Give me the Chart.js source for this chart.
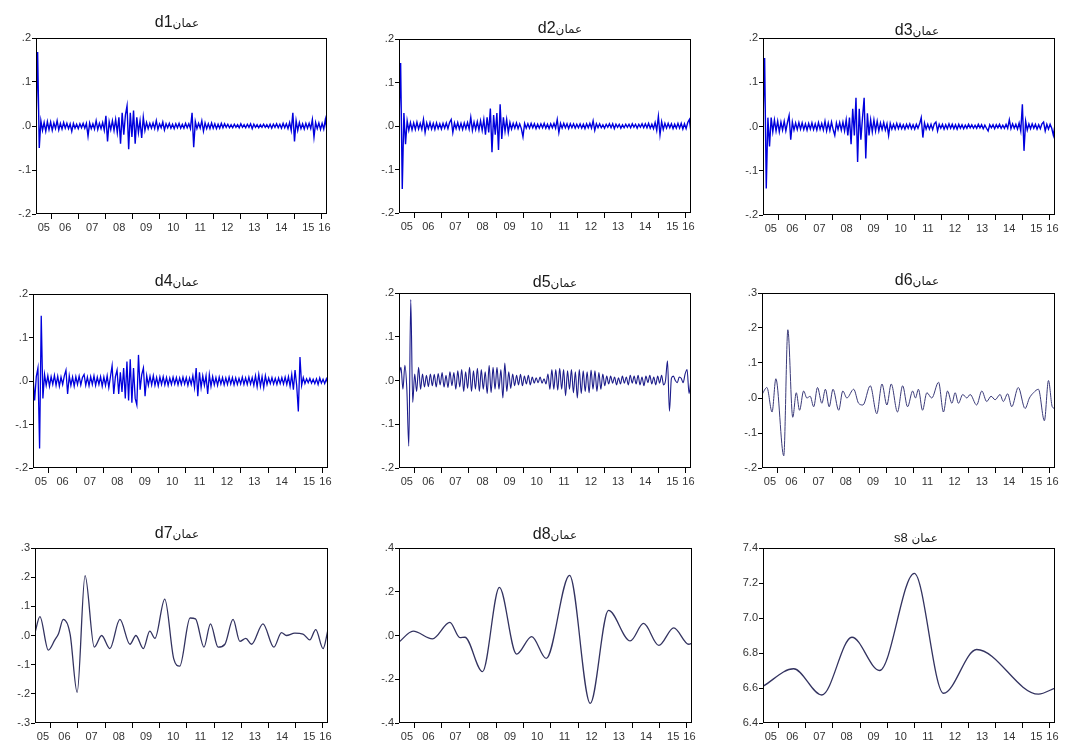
<!DOCTYPE html>
<html>
<head>
<meta charset="utf-8">
<script src="https://cdn.jsdelivr.net/npm/chart.js@4.4.1/dist/chart.umd.min.js"></script>
<style>
  body { margin: 0; background: #fff; }
  #page { position: relative; width: 1070px; height: 749px; overflow: hidden; background: #fff; }
  #page canvas { position: absolute; }
</style>
</head>
<body>
<div id="page"></div>
<script>
// sample period of the series (fractional years)
const startYear = 2005.42;
const endYear = 2016.19;
const yearLabels = ["05", "06", "07", "08", "09", "10", "11", "12", "13", "14", "15", "16"];
const cityName = "عمان";
const seriesCodes = ["d1", "d2", "d3", "d4", "d5", "d6", "d7", "d8", "s8 "];

// d1..d4: evenly spaced samples, 10 per row
const d1Values = [
  0, 0.168, -0.05, 0.012, -0.01, 0.008, -0.012, 0.01, -0.008, 0.009,
  -0.01, 0.007, -0.006, 0.012, -0.009, 0.006, -0.007, 0.008, -0.005, 0.006,
  -0.006, 0.005, -0.012, 0.006, -0.005, 0.004, -0.006, 0.005, -0.004, 0.006,
  -0.005, 0.006, -0.023, 0.007, -0.006, 0.005, -0.007, 0.012, -0.008, 0.006,
  -0.006, 0.008, -0.01, 0.023, -0.035, 0.01, -0.008, 0.012, -0.01, 0.015,
  -0.015, 0.02, -0.04, 0.03, -0.02, 0.025, 0.046, -0.053, 0.03, -0.025,
  0.035, -0.04, 0.02, -0.015, 0.012, -0.027, 0.02, -0.01, 0.008, -0.006,
  0.006, -0.005, 0.007, -0.006, 0.012, -0.008, 0.005, -0.004, 0.009, -0.009,
  0.005, -0.004, 0.006, -0.005, 0.004, -0.006, 0.005, -0.004, 0.006, -0.005,
  0.004, -0.005, 0.006, -0.004, 0.005, -0.006, 0.03, -0.048, 0.01, -0.006,
  0.006, -0.005, 0.012, -0.012, 0.007, -0.006, 0.005, -0.006, 0.007, -0.005,
  0.005, -0.006, 0.004, -0.005, 0.006, -0.004, 0.005, -0.003, 0.004, -0.004,
  0.003, -0.004, 0.004, -0.003, 0.003, -0.004, 0.005, -0.003, 0.003, -0.004,
  0.004, -0.003, 0.005, -0.006, 0.004, -0.003, 0.003, -0.004, 0.003, -0.003,
  0.004, -0.003, 0.003, -0.004, 0.004, -0.005, 0.004, -0.003, 0.005, -0.004,
  0.004, -0.005, 0.006, -0.004, 0.005, -0.006, 0.008, -0.01, 0.03, -0.035,
  0.012, -0.01, 0.008, -0.006, 0.005, -0.007, 0.006, -0.005, 0.006, -0.006,
  0.015, -0.025, 0.008, -0.006, 0.007, -0.008, 0.006, -0.007, 0.015, -0.012
];
const d2Values = [
  0.01, 0.145, -0.145, 0.03, -0.042, 0.012, -0.01, 0.008, -0.009, 0.007,
  -0.008, 0.009, -0.007, 0.006, -0.008, 0.015, -0.015, 0.007, -0.006, 0.008,
  -0.007, 0.006, -0.008, 0.007, -0.006, 0.005, -0.007, 0.006, -0.005, 0.007,
  -0.006, 0.008, 0.015, -0.015, 0.007, -0.006, 0.008, -0.007, 0.006, -0.008,
  0.007, -0.006, 0.008, -0.007, 0.02, -0.01, 0.009, -0.008, 0.01, -0.009,
  0.012, -0.01, 0.015, -0.02, 0.02, -0.015, 0.04, -0.06, 0.025, -0.02,
  0.03, -0.055, 0.05, -0.03, 0.02, -0.012, 0.015, -0.015, 0.008, -0.007,
  0.006, -0.005, 0.007, -0.006, 0.005, -0.006, -0.025, 0.006, -0.005, 0.005,
  -0.005, 0.006, -0.004, 0.005, -0.006, 0.004, -0.005, 0.005, -0.004, 0.006,
  -0.005, 0.004, -0.006, 0.005, -0.004, 0.006, -0.005, 0.015, -0.015, 0.006,
  -0.005, 0.006, -0.004, 0.005, -0.006, 0.005, -0.004, 0.005, -0.005, 0.004,
  -0.004, 0.005, -0.005, 0.004, -0.006, 0.005, -0.004, 0.006, -0.005, 0.012,
  -0.01, 0.005, -0.004, 0.005, -0.004, 0.003, -0.005, 0.004, -0.003, 0.005,
  -0.004, 0.005, -0.006, 0.004, -0.003, 0.004, -0.005, 0.003, -0.004, 0.004,
  -0.003, 0.004, -0.004, 0.005, -0.003, 0.004, -0.005, 0.004, -0.003, 0.005,
  -0.004, 0.005, -0.004, 0.006, -0.005, 0.004, -0.006, 0.008, -0.01, 0.022,
  -0.02, 0.01, -0.008, 0.006, -0.005, 0.006, -0.004, 0.005, -0.006, 0.004,
  -0.005, 0.006, -0.005, 0.006, -0.007, 0.005, -0.006, 0.008, 0.015, -0.015
];
const d3Values = [
  0.01, 0.155, -0.14, 0.02, -0.045, 0.02, -0.012, 0.015, -0.01, 0.012,
  -0.012, 0.01, -0.008, 0.012, -0.01, 0.009, 0.025, -0.03, 0.01, -0.008,
  0.008, -0.007, 0.009, -0.006, 0.008, -0.007, 0.006, -0.008, 0.007, -0.006,
  0.008, -0.007, 0.006, -0.008, 0.009, -0.006, 0.007, -0.008, 0.012, -0.01,
  0.008, -0.009, 0.01, -0.007, -0.02, 0.008, -0.007, 0.009, -0.008, 0.01,
  -0.01, 0.015, -0.02, 0.02, -0.04, 0.04, -0.02, 0.065, -0.08, 0.04,
  -0.03, 0.02, 0.065, -0.072, 0.03, -0.02, 0.015, -0.012, 0.015, -0.01,
  0.012, -0.01, 0.008, -0.007, 0.009, -0.008, 0.006, -0.02, 0.007, -0.006,
  0.005, -0.006, 0.007, -0.005, 0.006, -0.005, 0.004, -0.006, 0.005, -0.004,
  0.006, -0.005, 0.004, -0.006, 0.005, -0.004, 0.006, 0.02, -0.025, 0.008,
  -0.006, 0.005, -0.006, 0.005, -0.007, 0.006, 0.01, -0.01, 0.005, -0.004,
  0.005, -0.006, 0.004, -0.005, 0.006, -0.004, 0.005, -0.005, 0.004, -0.006,
  0.005, -0.004, 0.004, -0.005, 0.003, -0.004, 0.005, -0.003, 0.004, -0.004,
  0.003, -0.004, 0.005, -0.003, 0.004, -0.005, 0.003, -0.004, -0.01, 0.004,
  -0.003, 0.004, -0.005, 0.004, -0.003, 0.005, -0.004, 0.003, -0.004, 0.005,
  -0.004, 0.015, -0.005, 0.006, -0.004, 0.005, -0.006, 0.008, -0.01, 0.05,
  -0.055, 0.012, -0.008, 0.006, -0.005, 0.006, -0.004, 0.005, -0.006, 0.004,
  -0.005, 0.006, 0.01, -0.01, 0.005, -0.006, 0.005, -0.004, -0.02, 0.004
];
const d4Values = [
  0.01, -0.045, 0.01, 0.03, -0.155, 0.15, -0.04, 0.015, -0.01, 0.012,
  -0.012, 0.01, -0.008, 0.013, -0.01, 0.011, -0.012, 0.009, -0.008, 0.012,
  0.025, -0.03, 0.012, -0.01, 0.009, -0.012, 0.01, -0.008, 0.011, -0.009,
  0.008, 0.015, -0.01, 0.009, -0.011, 0.01, -0.008, 0.012, -0.01, 0.009,
  -0.008, 0.01, -0.012, 0.009, -0.01, 0.012, -0.015, 0.01, 0.035, -0.03,
  0.01, 0.025, -0.03, 0.02, -0.025, 0.03, -0.04, 0.045, -0.045, 0.05,
  -0.05, 0.03, -0.04, -0.055, 0.06, -0.02, 0.015, 0.03, -0.035, 0.012,
  -0.01, 0.011, -0.009, 0.012, -0.01, 0.008, -0.011, 0.009, -0.008, 0.01,
  -0.009, 0.008, -0.01, 0.007, -0.008, 0.009, -0.007, 0.008, -0.009, 0.007,
  -0.008, 0.009, -0.007, 0.008, -0.01, 0.007, -0.008, 0.012, -0.015, 0.03,
  -0.035, 0.02, -0.015, 0.012, -0.01, 0.012, -0.03, 0.015, -0.012, 0.01,
  -0.009, 0.008, -0.01, 0.009, -0.007, 0.008, -0.009, 0.007, -0.008, 0.009,
  -0.007, 0.008, -0.009, 0.007, -0.008, 0.006, -0.007, 0.009, -0.008, 0.007,
  -0.008, 0.009, -0.007, 0.008, -0.01, 0.012, -0.013, 0.015, -0.012, 0.01,
  -0.015, 0.012, -0.008, 0.007, -0.006, 0.008, -0.007, 0.006, -0.008, 0.007,
  -0.006, 0.008, -0.007, 0.009, -0.008, 0.01, -0.012, 0.015, -0.02, 0.025,
  -0.01, -0.07, 0.055, -0.01, 0.008, -0.006, 0.005, -0.004, 0.006, -0.005,
  0.004, -0.006, 0.005, -0.008, 0.007, -0.005, 0.004, -0.006, 0.005, -0.007
];
// d5: evenly spaced samples, 10 per row
const d5Values = [
  0.01, 0.03, -0.02, 0.035, -0.02, -0.15, 0.185, -0.05, 0.015, -0.025,
  0.03, -0.02, 0.015, -0.015, 0.012, -0.014, 0.015, -0.012, 0.014, -0.015,
  0.016, -0.01, 0.018, -0.015, 0.012, -0.016, 0.02, -0.012, 0.018, -0.02,
  0.022, -0.015, 0.025, -0.025, 0.02, -0.018, 0.03, -0.025, 0.022, -0.02,
  0.028, -0.025, 0.025, -0.02, 0.02, -0.03, 0.035, -0.028, 0.03, -0.02,
  0.03, -0.02, 0.025, -0.04, 0.04, -0.025, 0.02, -0.018, 0.015, -0.012,
  0.012, -0.01, 0.014, -0.012, 0.01, -0.008, 0.012, -0.01, 0.008, -0.006,
  0.006, -0.005, 0.008, -0.006, 0.004, -0.008, 0.015, -0.02, 0.025, -0.02,
  0.025, -0.022, 0.028, -0.02, 0.025, -0.035, 0.022, -0.02, 0.025, -0.028,
  0.02, -0.04, 0.025, -0.03, 0.022, -0.025, 0.02, -0.028, 0.024, -0.02,
  0.022, -0.025, 0.018, -0.02, 0.015, -0.012, 0.01, -0.008, 0.01, -0.006,
  0.008, -0.01, 0.006, -0.008, 0.01, -0.006, 0.008, -0.01, 0.012, -0.006,
  0.01, -0.008, 0.012, -0.01, 0.008, -0.012, 0.01, -0.005, 0.012, -0.008,
  0.008, -0.01, 0.01, -0.006, 0.012, -0.01, 0.0, 0.045, -0.07, 0.005,
  0.01, 0.0, -0.005, 0.008, 0.005, -0.005, 0.015, 0.025, -0.03, 0.005
];
// d6..s8: turning points (year, value)
const d6Years = [2005.42, 2005.60, 2005.79, 2005.93, 2006.22, 2006.37, 2006.55, 2006.68, 2006.80, 2006.95,
  2007.07, 2007.19, 2007.32, 2007.46, 2007.62, 2007.75, 2007.89, 2008.03, 2008.24, 2008.39,
  2008.54, 2008.79, 2008.97, 2009.13, 2009.40, 2009.64, 2009.83, 2010.01, 2010.17, 2010.40,
  2010.59, 2010.77, 2010.96, 2011.06, 2011.17, 2011.32, 2011.48, 2011.66, 2011.91, 2012.09,
  2012.24, 2012.40, 2012.52, 2012.64, 2012.80, 2012.95, 2013.07, 2013.31, 2013.50, 2013.68,
  2013.84, 2013.99, 2014.17, 2014.29, 2014.45, 2014.60, 2014.84, 2015.09, 2015.25, 2015.40,
  2015.58, 2015.80, 2015.95, 2016.09, 2016.19];
const d6Values = [0.01, 0.03, -0.04, 0.055, -0.165, 0.195, -0.055, 0.015, -0.035, 0.02,
  0.0, 0.005, -0.025, 0.03, -0.015, 0.025, -0.025, 0.025, -0.035, 0.02,
  0.0, 0.025, -0.015, -0.02, 0.035, -0.045, 0.04, -0.02, 0.04, -0.04,
  0.035, -0.025, 0.02, 0.0, 0.025, -0.035, 0.015, 0.0, 0.045, -0.04,
  0.02, -0.015, 0.015, -0.015, 0.01, 0.0, 0.01, -0.02, 0.02, -0.01,
  0.005, -0.005, 0.01, -0.01, 0.012, -0.025, 0.03, -0.03, 0.0, 0.015,
  0.025, -0.065, 0.05, -0.025, -0.03];
const d7Years = [2005.42, 2005.60, 2005.91, 2006.15, 2006.28, 2006.46, 2006.71, 2006.97, 2007.26, 2007.60,
  2007.87, 2008.17, 2008.54, 2008.91, 2009.13, 2009.40, 2009.64, 2009.83, 2010.19, 2010.52,
  2010.74, 2011.12, 2011.32, 2011.63, 2011.87, 2012.15, 2012.40, 2012.70, 2012.95, 2013.17,
  2013.38, 2013.80, 2014.20, 2014.48, 2014.66, 2014.97, 2015.27, 2015.52, 2015.74, 2016.01,
  2016.19];
const d7Values = [0.01, 0.065, -0.05, -0.015, 0.005, 0.055, 0.005, -0.195, 0.205, -0.04,
  0.0, -0.045, 0.055, -0.03, 0.0, -0.045, 0.015, -0.01, 0.125, -0.08,
  -0.105, 0.06, 0.057, -0.04, 0.04, -0.04, -0.03, 0.055, -0.02, -0.01,
  -0.03, 0.04, -0.04, 0.01, 0.0, 0.008, 0.005, -0.015, 0.02, -0.045,
  0.02];
const d8Years = [2005.42, 2005.94, 2006.65, 2007.29, 2007.66, 2007.84, 2008.49, 2009.11, 2009.74, 2010.30,
  2010.83, 2011.69, 2012.45, 2013.12, 2013.92, 2014.41, 2014.97, 2015.52, 2016.07, 2016.19];
const d8Values = [-0.03, 0.02, -0.015, 0.06, -0.01, -0.008, -0.165, 0.22, -0.085, -0.005,
  -0.105, 0.275, -0.31, 0.115, -0.025, 0.055, -0.045, 0.035, -0.04, -0.035];
const s8Years = [2005.42, 2006.55, 2007.59, 2008.70, 2009.72, 2011.00, 2012.08, 2013.30, 2015.58, 2016.19];
const s8Values = [6.61, 6.71, 6.56, 6.89, 6.70, 7.255, 6.57, 6.82, 6.565, 6.60];

function evenSeries(values) {
  const step = (endYear - startYear) / (values.length - 1);
  return values.map((v, i) => ({ x: startYear + i * step, y: v }));
}
function pairSeries(years, values) {
  return years.map((x, i) => ({ x: x, y: values[i] }));
}

// x ticks: marks at year boundaries, labels centred inside each year
const xMarks = [];
const xLabelAt = new Map();
yearLabels.forEach((lab, i) => {
  const y0 = 2005 + i;
  if (y0 > startYear) xMarks.push(y0);
  const mid = (Math.max(y0, startYear) + Math.min(y0 + 1, endYear)) / 2;
  xLabelAt.set(mid.toFixed(3), lab);
});
const xTickValues = xMarks.concat([...xLabelAt.keys()].map(Number)).sort((a, b) => a - b);

const FONT = "'Liberation Sans', Arial, 'DejaVu Sans', sans-serif";
const Y_W = 34, X_H = 26, RP = 8;

const panels = [
  { box: [36, 38, 327, 214], tx: 177, ty: 27, range: [-0.2, 0.2, 0.1], data: evenSeries(d1Values), color: "#0000dd", width: 1.4, smooth: false },
  { box: [399, 39, 691, 213], tx: 560, ty: 33, range: [-0.2, 0.2, 0.1], data: evenSeries(d2Values), color: "#0000dd", width: 1.4, smooth: false },
  { box: [763, 38, 1055, 215], tx: 917, ty: 35, range: [-0.2, 0.2, 0.1], data: evenSeries(d3Values), color: "#0000dd", width: 1.4, smooth: false },
  { box: [33, 294, 328, 468], tx: 177, ty: 286, range: [-0.2, 0.2, 0.1], data: evenSeries(d4Values), color: "#0000dd", width: 1.3, smooth: false },
  { box: [399, 293, 691, 468], tx: 555, ty: 287, range: [-0.2, 0.2, 0.1], data: evenSeries(d5Values), color: "#1c1c8a", width: 1.1, smooth: true },
  { box: [762, 293, 1055, 468], tx: 917, ty: 285, range: [-0.2, 0.3, 0.1], data: pairSeries(d6Years, d6Values), color: "#3a3a78", width: 1, smooth: true },
  { box: [35, 548, 328, 723], tx: 177, ty: 538, range: [-0.3, 0.3, 0.1], data: pairSeries(d7Years, d7Values), color: "#333360", width: 1.3, smooth: true },
  { box: [399, 548, 692, 723], tx: 555, ty: 539, range: [-0.4, 0.4, 0.2], data: pairSeries(d8Years, d8Values), color: "#333360", width: 1.3, smooth: true },
  { box: [763, 548, 1055, 723], tx: 916, ty: 542, range: [6.4, 7.4, 0.2], data: pairSeries(s8Years, s8Values), color: "#333360", width: 1.3, smooth: true, small: true }
];

function shortNum(v) {
  const s = Math.abs(v).toFixed(1).replace(/^0\./, ".");
  return (v < -1e-9 ? "-" : "") + s;
}

const framePlugin = {
  id: "frame",
  afterDatasetsDraw(chart) {
    const a = chart.chartArea, ctx = chart.ctx;
    ctx.save();
    ctx.strokeStyle = "#000";
    ctx.lineWidth = 1;
    ctx.strokeRect(Math.round(a.left) + 0.5, Math.round(a.top) + 0.5,
      Math.round(a.right - a.left) - 1, Math.round(a.bottom - a.top) - 1);
    ctx.restore();
  }
};

const captionPlugin = {
  id: "caption",
  afterDraw(chart, args, opts) {
    const ctx = chart.ctx;
    ctx.save();
    ctx.fillStyle = "#1a1a1a";
    ctx.textBaseline = "alphabetic";
    ctx.textAlign = "left";
    const codeFont = opts.codeSize + "px " + FONT;
    const cityFont = opts.citySize + "px 'DejaVu Sans', sans-serif";
    ctx.font = codeFont;
    const w1 = ctx.measureText(opts.code).width;
    ctx.font = cityFont;
    const w2 = ctx.measureText(opts.city).width;
    const x0 = opts.x - (w1 + w2) / 2;
    ctx.font = codeFont;
    ctx.fillText(opts.code, x0, opts.y);
    ctx.font = cityFont;
    ctx.fillText(opts.city, x0 + w1, opts.y);
    ctx.restore();
  }
};

const page = document.getElementById("page");

panels.forEach((p, idx) => {
  const [l, t, r, b] = p.box;
  const left = l - Y_W;
  const top = p.ty - 20;
  const w = Y_W + (r - l) + RP;
  const h = (t - top) + (b - t) + X_H;
  const canvas = document.createElement("canvas");
  canvas.width = w;
  canvas.height = h;
  canvas.style.left = left + "px";
  canvas.style.top = top + "px";
  canvas.style.width = w + "px";
  canvas.style.height = h + "px";
  page.appendChild(canvas);

  new Chart(canvas, {
    type: "line",
    data: {
      datasets: [{
        data: p.data,
        borderColor: p.color,
        borderWidth: p.width,
        pointRadius: 0,
        fill: false,
        tension: 0,
        cubicInterpolationMode: p.smooth ? "monotone" : "default"
      }]
    },
    options: {
      responsive: false,
      animation: false,
      devicePixelRatio: 1,
      layout: { padding: { top: t - top, right: RP, left: 0, bottom: 0 } },
      plugins: {
        legend: { display: false },
        tooltip: { enabled: false },
        caption: {
          code: seriesCodes[idx],
          city: cityName,
          codeSize: p.small ? 13 : 16,
          citySize: 12,
          x: p.tx - left,
          y: p.ty - top
        }
      },
      scales: {
        x: {
          type: "linear",
          min: startYear,
          max: endYear,
          afterBuildTicks: (scale) => { scale.ticks = xTickValues.map(v => ({ value: v })); },
          afterFit: (scale) => { scale.height = X_H; },
          border: { display: false },
          grid: {
            drawOnChartArea: false,
            drawTicks: true,
            tickLength: 5,
            tickColor: (c) => (c.tick && Number.isInteger(c.tick.value)) ? "#000" : "rgba(0,0,0,0)"
          },
          ticks: {
            autoSkip: false,
            maxRotation: 0,
            minRotation: 0,
            padding: 2,
            color: "#333",
            font: { family: FONT, size: 11 },
            callback: (v) => xLabelAt.get(Number(v).toFixed(3)) || ""
          }
        },
        y: {
          min: p.range[0],
          max: p.range[1],
          afterFit: (scale) => { scale.width = Y_W; },
          border: { display: false },
          grid: { drawOnChartArea: false, drawTicks: true, tickLength: 4, tickColor: "#000" },
          ticks: {
            stepSize: p.range[2],
            padding: 1,
            color: "#333",
            font: { family: FONT, size: 11 },
            callback: (v) => shortNum(v)
          }
        }
      }
    },
    plugins: [framePlugin, captionPlugin]
  });
});
</script>
</body>
</html>
